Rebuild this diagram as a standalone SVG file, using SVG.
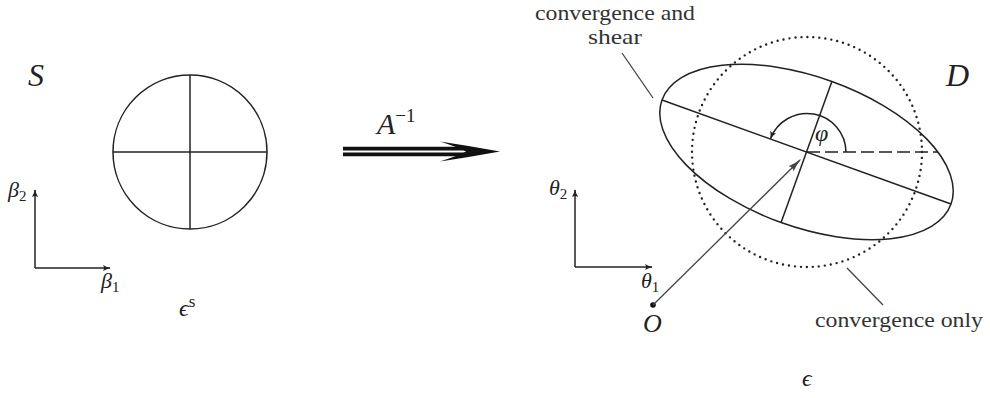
<svg xmlns="http://www.w3.org/2000/svg" width="990" height="398" viewBox="0 0 990 398">
<style>
.ln{fill:none;stroke:#222;stroke-width:1.5}
.gr{fill:none;stroke:#444;stroke-width:1.3}
text{font-family:'Liberation Serif','DejaVu Serif',serif}
.t{fill:#333}
.m{font-style:italic;fill:#222}
.u{font-style:normal}
</style>
<defs>
<marker id="ah" viewBox="0 0 10 10" refX="9" refY="5" markerWidth="8" markerHeight="8" markerUnits="userSpaceOnUse" orient="auto">
<path d="M0,1 Q5,4 10,5 Q5,6 0,9 Q3,5 0,1 Z" fill="#222"/>
</marker>
<marker id="ahg" viewBox="0 0 10 10" refX="9" refY="5" markerWidth="14" markerHeight="14" markerUnits="userSpaceOnUse" orient="auto">
<path d="M0,2.5 Q5,4.3 10,5 Q5,5.7 0,7.5 Q2,5 0,2.5 Z" fill="#444"/>
</marker>
</defs>

<g id="source-plane">
<text class="m" x="28" y="86" font-size="32">S</text>
<g id="source-circle">
<circle class="ln" cx="190" cy="152" r="77"/>
<line class="ln" x1="113" y1="152" x2="267" y2="152"/>
<line class="ln" x1="190" y1="75" x2="190" y2="229"/>
</g>
<g id="source-axes">
<line class="ln" x1="35" y1="268" x2="35" y2="190" marker-end="url(#ah)"/>
<line class="ln" x1="35" y1="268" x2="110" y2="268" marker-end="url(#ah)"/>
<text class="m" x="8" y="197" font-size="22">β<tspan class="u" font-size="15" dy="4">2</tspan></text>
<text class="m" x="101" y="288" font-size="22">β<tspan class="u" font-size="15" dy="4">1</tspan></text>
</g>
<text class="m" x="179" y="316" font-size="24">ϵ<tspan class="u" font-size="17" dy="-9">s</tspan></text>
</g>

<g id="mapping-arrow">
<line x1="343" y1="148.6" x2="470" y2="148.6" stroke="#111" stroke-width="3.6"/>
<line x1="343" y1="154.4" x2="470" y2="154.4" stroke="#111" stroke-width="3.6"/>
<path d="M500,151.5 Q470,146 440,141.5 Q460,148 466,151.5 Q460,155 440,161.5 Q470,157 500,151.5 Z" fill="#111"/>
<text class="m" x="377" y="134" font-size="30">A<tspan class="u" font-size="19" dy="-12">−1</tspan></text>
</g>

<g id="image-plane">
<text class="m" x="946" y="86" font-size="32">D</text>
<g id="dotted-circle">
<circle cx="807" cy="152" r="115" fill="none" stroke="#222" stroke-width="2.4" stroke-linecap="round" stroke-dasharray="0 6.02"/>
</g>
<g id="ellipse">
<ellipse class="ln" cx="806.5" cy="152" rx="153.6" ry="75" transform="rotate(19.8 806.5 152)"/>
<line class="ln" x1="662" y1="100" x2="951" y2="204"/>
<line class="ln" x1="831.9" y1="81.4" x2="781.1" y2="222.6"/>
<line class="ln" x1="807" y1="152" x2="938" y2="152" stroke-dasharray="13 5"/>
<path class="ln" d="M846,152 A39,39 0 0 0 770.6,138.5" marker-end="url(#ah)"/>
<text class="m" x="815" y="141" font-size="24">φ</text>
</g>
<g id="image-axes">
<line class="ln" x1="575" y1="267" x2="575" y2="190" marker-end="url(#ah)"/>
<line class="ln" x1="575" y1="267" x2="652" y2="267" marker-end="url(#ah)"/>
<text class="m" x="549" y="195" font-size="22">θ<tspan class="u" font-size="15" dy="4">2</tspan></text>
<text class="m" x="641" y="288" font-size="22">θ<tspan class="u" font-size="15" dy="4">1</tspan></text>
</g>
<g id="origin">
<circle cx="653" cy="305" r="2.8" fill="#111"/>
<text class="m" x="643" y="332" font-size="26">O</text>
</g>
<text class="m" x="802" y="386" font-size="24">ϵ</text>
<g id="label-shear">
<text class="t" x="535" y="20" font-size="21" textLength="160" lengthAdjust="spacingAndGlyphs">convergence and</text>
<text class="t" x="588" y="44" font-size="21" textLength="54" lengthAdjust="spacingAndGlyphs">shear</text>
</g>
<g id="label-convergence">
<text class="t" x="815" y="327" font-size="22" textLength="168" lengthAdjust="spacingAndGlyphs">convergence only</text>
</g>
</g>

<g id="connectors">
<line class="gr" x1="622" y1="53" x2="653" y2="98"/>
<line class="gr" x1="847" y1="268" x2="883" y2="305"/>
<line x1="653" y1="305" x2="800" y2="160" stroke="#444" stroke-width="1.3" marker-end="url(#ahg)"/>
</g>
</svg>
